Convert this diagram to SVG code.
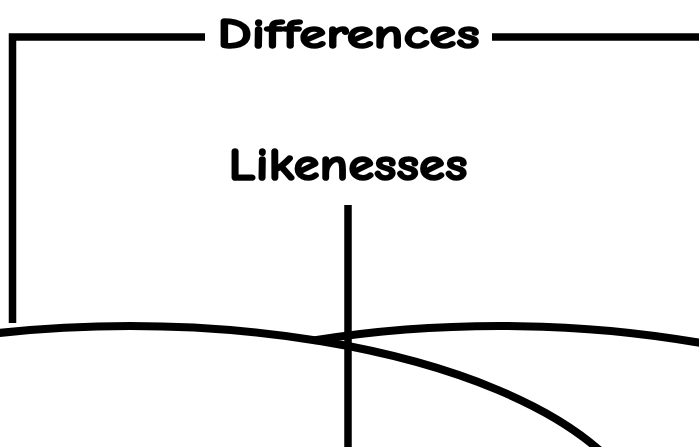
<svg xmlns="http://www.w3.org/2000/svg" width="699" height="447" viewBox="0 0 699 447">
<style>
.ln{fill:none;stroke:#000;stroke-width:7.5;stroke-linecap:butt;stroke-linejoin:miter}
.arc{fill:none;stroke:#000;stroke-width:8}
.lbl{font-family:"Comic Sans MS","Comic Neue","DejaVu Sans",sans-serif;font-weight:bold;fill:#000;stroke:#000;stroke-width:1.6;stroke-linejoin:round;text-anchor:middle}
</style>
<rect width="699" height="447" fill="#fff"/>
<g id="connectors">
<path class="ln" d="M12.5 323 V37 H205"/>
<path class="ln" d="M492 37 H699"/>
<path class="ln" d="M348 205 V447"/>
</g>
<g id="left-set">
<ellipse class="arc" cx="130" cy="544" rx="520" ry="218"/>
</g>
<g id="right-set">
<path class="arc" d="M315 340.2 A520 218 0 0 1 720 346.5"/>
</g>
<g id="differences">
<text class="lbl" x="348.5" y="48" font-size="43" textLength="262" lengthAdjust="spacingAndGlyphs">Differences</text>
</g>
<g id="likenesses">
<text class="lbl" x="348" y="180" font-size="46" textLength="239" lengthAdjust="spacingAndGlyphs">Likenesses</text>
</g>
</svg>
